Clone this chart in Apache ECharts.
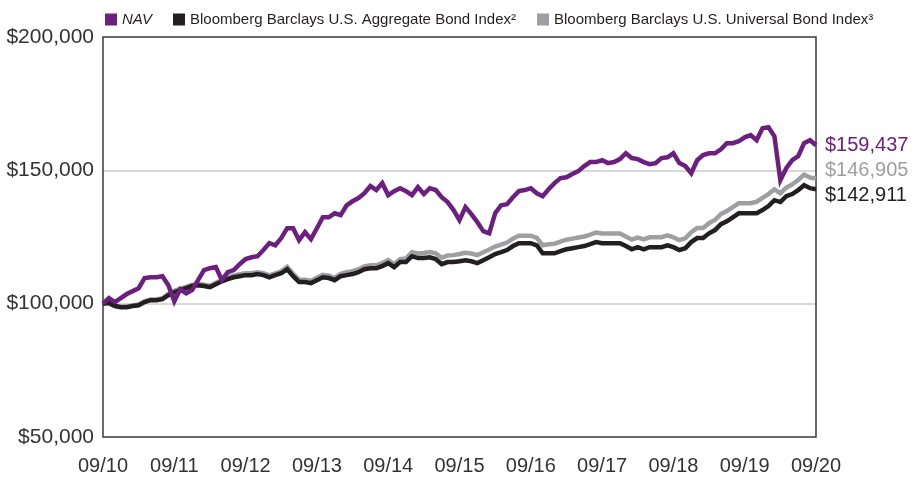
<!DOCTYPE html>
<html>
<head>
<meta charset="utf-8">
<script src="https://cdn.jsdelivr.net/npm/echarts@6/dist/echarts.min.js"></script>
<style>
  html, body { margin: 0; padding: 0; background: #fff; }
  #chart { width: 921px; height: 478px; }
</style>
</head>
<body>
<div id="chart"></div>
<script>
// month index 0 = 09/10 ... 120 = 09/20
const xTickLabels = ['09/10', '09/11', '09/12', '09/13', '09/14', '09/15', '09/16', '09/17', '09/18', '09/19', '09/20']

const navValues = [
  100000, 102100, 100600, 102100, 103600, 104700, 105800, 109600, 109900, 109900,
  110300, 106900, 100900, 105400, 103900, 105100, 108800, 112600, 113300, 113700,
  108800, 111800, 112600, 114800, 116700, 117400, 117800, 120100, 122700, 121900,
  124600, 128300, 128300, 123800, 126800, 124200, 128300, 132400, 132400, 133900,
  133200, 136900, 138400, 139600, 141400, 144100, 142600, 145200, 140700, 142200,
  143300, 142200, 140700, 143700, 141100, 143300, 142600, 139900, 138100, 135100,
  131300, 136200, 133600, 130600, 127200, 126400, 133900, 136900, 137300, 139900,
  142200, 142600, 143300, 141400, 140300, 142900, 145200, 147100, 147400, 148600,
  149700, 151600, 153100, 153100, 153800, 152700, 153100, 154200, 156400, 154600,
  154200, 153100, 152300, 152700, 154600, 154900, 156400, 152700, 151600, 148900,
  153800, 155700, 156400, 156400, 157900, 160200, 160200, 160900, 162400, 163200,
  161300, 165800, 166200, 162800, 146300, 150800, 153800, 155300, 160200, 161300,
  159437
]

const aggregateValues = [
  100000, 100200, 99100, 98700, 98700, 99100, 99400, 100600, 101300, 101300,
  101700, 103200, 104300, 105100, 105800, 106600, 106900, 106600, 106200, 107300,
  108400, 109200, 109900, 110300, 110700, 110700, 111100, 110700, 109900, 110700,
  111400, 112900, 110300, 108100, 108100, 107700, 108800, 109900, 109600, 108800,
  110300, 110700, 111100, 111800, 112900, 113300, 113300, 114100, 115200, 113700,
  115600, 115600, 117800, 117100, 117100, 117400, 116700, 114800, 115600, 115600,
  115900, 116300, 115900, 115200, 116300, 117400, 118600, 119300, 120100, 121600,
  122700, 122700, 122700, 121900, 118900, 118900, 118900, 119700, 120400, 120800,
  121200, 121600, 122300, 123100, 122700, 122700, 122700, 122700, 121600, 120400,
  121200, 120400, 121200, 121200, 121200, 121900, 121200, 120100, 120800, 123100,
  124600, 124600, 126400, 127600, 129800, 130900, 132400, 133900, 133900, 133900,
  133900, 135100, 136600, 138800, 138100, 140300, 141100, 142600, 144400, 143300,
  142911
]

const universalValues = [
  100000, 100400, 99300, 98900, 98900, 99300, 99700, 100900, 101600, 101600,
  102000, 103700, 104800, 105600, 106300, 107100, 107400, 107100, 106700, 107800,
  108900, 109900, 110600, 111000, 111400, 111400, 111800, 111400, 110600, 111400,
  112100, 113800, 111200, 109000, 109000, 108600, 109700, 110800, 110500, 109700,
  111200, 111800, 112200, 112900, 114000, 114400, 114400, 115200, 116300, 114800,
  116700, 116900, 119300, 118800, 119000, 119400, 118900, 117200, 118100, 118200,
  118600, 119100, 118800, 118200, 119300, 120300, 121400, 122100, 122900, 124400,
  125500, 125500, 125500, 124700, 121900, 122300, 122500, 123300, 124000, 124400,
  124800, 125200, 125900, 126700, 126300, 126300, 126300, 126300, 125200, 124000,
  124800, 124100, 124900, 124900, 124900, 125600, 124900, 123800, 124500, 126800,
  128400, 128400, 130200, 131400, 133600, 134700, 136200, 137700, 137700, 137700,
  138200, 139700, 141100, 142900, 141400, 143500, 144700, 146400, 148400, 147300,
  146905
]

const seriesNames = [
  'NAV',
  'Bloomberg Barclays U.S. Aggregate Bond Index²',
  'Bloomberg Barclays U.S. Universal Bond Index³'
]
const seriesColors = ['#6d1f80', '#231f20', '#9d9fa2']

const FONT = '"Liberation Sans", Arial, sans-serif'
const money = v => '$' + Math.round(v).toLocaleString('en-US')
const toPairs = arr => arr.map((v, i) => [i, v])

const chart = echarts.init(document.getElementById('chart'))

function lineSeries(idx, data, z, labelOffset) {
  return {
    name: seriesNames[idx],
    type: 'line',
    data: toPairs(data),
    symbol: 'none',
    z,
    lineStyle: { color: seriesColors[idx], width: 4.5, join: 'miter' },
    itemStyle: { color: seriesColors[idx] },
    emphasis: { disabled: true },
    endLabel: {
      show: true,
      formatter: p => money(p.value[1]),
      color: seriesColors[idx],
      fontFamily: FONT,
      fontSize: 20,
      distance: 9,
      offset: labelOffset
    }
  }
}

chart.setOption({
  animation: false,
  textStyle: { fontFamily: FONT },
  legend: {
    left: 100,
    top: 7,
    itemWidth: 12,
    itemHeight: 12,
    itemGap: 21,
    icon: 'rect',
    data: seriesNames,
    formatter: name => name === 'NAV' ? '{i|NAV}' : name,
    textStyle: {
      color: '#231f20',
      fontSize: 15,
      fontFamily: FONT,
      rich: { i: { fontStyle: 'italic', fontSize: 15, color: '#231f20', fontFamily: FONT } }
    }
  },
  grid: {
    left: 103, right: 105, top: 37, bottom: 41,
    show: true,
    borderColor: '#3a3a3a',
    borderWidth: 1.5,
    z: 3
  },
  xAxis: {
    type: 'value',
    min: 0,
    max: 120,
    interval: 12,
    axisLine: { show: false },
    axisTick: { show: false },
    splitLine: { show: false },
    axisLabel: {
      formatter: v => xTickLabels[v / 12],
      color: '#333',
      fontSize: 20,
      margin: 19,
      fontFamily: FONT
    }
  },
  yAxis: {
    type: 'value',
    min: 50000,
    max: 200000,
    interval: 50000,
    axisLine: { show: false },
    axisTick: { show: false },
    splitLine: {
      showMinLine: false,
      showMaxLine: false,
      lineStyle: { color: '#d9d9d9', width: 2 }
    },
    axisLabel: {
      formatter: v => money(v),
      color: '#333',
      fontSize: 21,
      margin: 9,
      fontFamily: FONT
    }
  },
  series: [
    lineSeries(0, navValues, 5, [0, 0]),
    lineSeries(1, aggregateValues, 4, [0, 6]),
    lineSeries(2, universalValues, 3, [0, -8])
  ]
})
</script>
</body>
</html>
